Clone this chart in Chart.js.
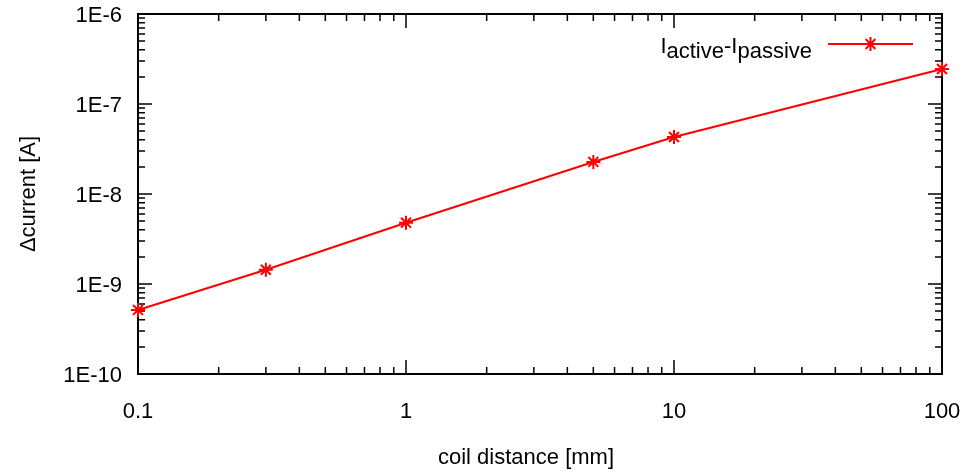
<!DOCTYPE html>
<html>
<head>
<meta charset="utf-8">
<script src="https://cdn.jsdelivr.net/npm/chart.js@4"></script>
<style>
  html, body { margin: 0; padding: 0; background: #fff; }
</style>
</head>
<body>
<canvas id="myChart" width="969" height="474"></canvas>
<script>
// coil distance [mm] vs. current difference [A]
const distances = [0.1, 0.3, 1, 5, 10, 100];
const deltaCurrent = [5.15e-10, 1.44e-9, 4.8e-9, 2.27e-8, 4.3e-8, 2.45e-7];
const xTickLabels = ['0.1', '1', '10', '100'];
const yTickLabels = ['1E-10', '1E-9', '1E-8', '1E-7', '1E-6'];
const legendParts = [['I', 0], ['active', 1], ['-', 0], ['I', 0], ['passive', 1]];
const xTitle = 'coil distance [mm]';
const yTitle = 'Δcurrent [A]';

const FONT = '"Liberation Sans", Arial, sans-serif';
const RED = '#ff0000';

function decadeIndex(v, first) {
      const e = Math.round(Math.log10(v));
      if (Math.abs(v / Math.pow(10, e) - 1) > 1e-6) return -1;
      return e - first;
}

// gnuplot style frame with inward ticks on all four sides
const frameTicks = {
      id: 'frameTicks',
      beforeDatasetsDraw(chart) {
            const { ctx, chartArea: a, scales: { x, y } } = chart;
            ctx.save();
            ctx.strokeStyle = '#000';
            ctx.lineWidth = 1.5;
            ctx.beginPath();
            const each = (scale, fn) => {
                  const lo = Math.floor(Math.log10(scale.min));
                  const hi = Math.ceil(Math.log10(scale.max));
                  for (let e = lo; e <= hi; e++) {
                        for (let k = 1; k <= 9; k++) {
                              const v = k * Math.pow(10, e);
                              if (v < scale.min * 0.999 || v > scale.max * 1.001) continue;
                              fn(scale.getPixelForValue(v), k === 1 ? 14 : 7);
                        }
                  }
            };
            each(x, (px, len) => {
                  ctx.moveTo(px, a.bottom); ctx.lineTo(px, a.bottom - len);
                  ctx.moveTo(px, a.top); ctx.lineTo(px, a.top + len);
            });
            each(y, (py, len) => {
                  ctx.moveTo(a.left, py); ctx.lineTo(a.left + len, py);
                  ctx.moveTo(a.right, py); ctx.lineTo(a.right - len, py);
            });
            ctx.stroke();
            ctx.lineWidth = 2;
            ctx.strokeRect(a.left, a.top, a.right - a.left, a.bottom - a.top);

            // x axis label, sits a little left of the plot centre like gnuplot's
            ctx.fillStyle = '#000';
            ctx.font = '22px ' + FONT;
            ctx.textAlign = 'center';
            ctx.textBaseline = 'middle';
            ctx.fillText(xTitle, (a.left + a.right) / 2 - 14, a.bottom + 84);
            ctx.restore();
      }
};

// key with subscripts, top right inside the frame
const subLegend = {
      id: 'subLegend',
      afterDraw(chart) {
            const ctx = chart.ctx;
            const a = chart.chartArea;
            const baseY = a.top + 39;
            const textRight = a.right - 130;
            ctx.save();
            ctx.fillStyle = '#000';
            ctx.textBaseline = 'alphabetic';
            ctx.textAlign = 'left';
            ctx.font = '22px ' + FONT;
            let total = 0;
            legendParts.forEach(p => { total += ctx.measureText(p[0]).width; });
            let xPos = textRight - total;
            legendParts.forEach(p => {
                  ctx.fillText(p[0], xPos, baseY + (p[1] ? 5 : 0));
                  xPos += ctx.measureText(p[0]).width;
            });
            const ly = a.top + 30;
            const x0 = a.right - 114, x1 = a.right - 29, xm = (x0 + x1) / 2;
            ctx.strokeStyle = RED;
            ctx.lineWidth = 2;
            ctx.beginPath();
            ctx.moveTo(x0, ly); ctx.lineTo(x1, ly);
            const r = 7, d = r * Math.SQRT1_2;
            ctx.moveTo(xm - r, ly); ctx.lineTo(xm + r, ly);
            ctx.moveTo(xm, ly - r); ctx.lineTo(xm, ly + r);
            ctx.moveTo(xm - d, ly - d); ctx.lineTo(xm + d, ly + d);
            ctx.moveTo(xm - d, ly + d); ctx.lineTo(xm + d, ly - d);
            ctx.stroke();
            ctx.restore();
      }
};

window.addEventListener('DOMContentLoaded', () => {
      const ctx = document.getElementById('myChart');

      new Chart(ctx, {
            type: 'line',
            data: {
                  datasets: [{
                        label: 'Iactive-Ipassive',
                        data: distances.map((d, i) => ({ x: d, y: deltaCurrent[i] })),
                        borderColor: RED,
                        backgroundColor: RED,
                        borderWidth: 2,
                        pointStyle: 'star',
                        pointRadius: 7,
                        pointBorderWidth: 2,
                        pointBorderColor: RED,
                        tension: 0,
                        clip: false
                  }]
            },
            options: {
                  responsive: false,
                  animation: false,
                  layout: { padding: { top: 14, right: 27, left: 0, bottom: 0 } },
                  plugins: {
                        legend: { display: false },
                        tooltip: { enabled: false }
                  },
                  scales: {
                        x: {
                              type: 'logarithmic',
                              min: 0.1,
                              max: 100,
                              grid: { display: false, drawTicks: false },
                              border: { display: false },
                              ticks: {
                                    autoSkip: false,
                                    maxRotation: 0,
                                    padding: 25,
                                    color: '#000',
                                    font: { family: FONT, size: 22 },
                                    callback: v => {
                                          const i = decadeIndex(v, -1);
                                          return i >= 0 ? xTickLabels[i] : '';
                                    }
                              },
                              title: { display: false },
                              afterFit: s => {
                                    s.height = 100;
                                    s.paddingLeft = 0;
                                    s.paddingRight = 0;
                              }
                        },
                        y: {
                              type: 'logarithmic',
                              min: 1e-10,
                              max: 1e-6,
                              grid: { display: false, drawTicks: false },
                              border: { display: false },
                              ticks: {
                                    autoSkip: false,
                                    padding: 16,
                                    labelOffset: 2,
                                    color: '#000',
                                    font: { family: FONT, size: 22 },
                                    callback: v => {
                                          const i = decadeIndex(v, -10);
                                          return i >= 0 ? yTickLabels[i] : '';
                                    }
                              },
                              title: {
                                    display: true,
                                    text: yTitle,
                                    color: '#000',
                                    font: { family: FONT, size: 22 },
                                    padding: { top: 16, bottom: 0 }
                              },
                              afterFit: s => {
                                    s.width = 138;
                                    s.paddingTop = 0;
                                    s.paddingBottom = 0;
                              }
                        }
                  }
            },
            plugins: [frameTicks, subLegend]
      });
});
</script>
</body>
</html>
